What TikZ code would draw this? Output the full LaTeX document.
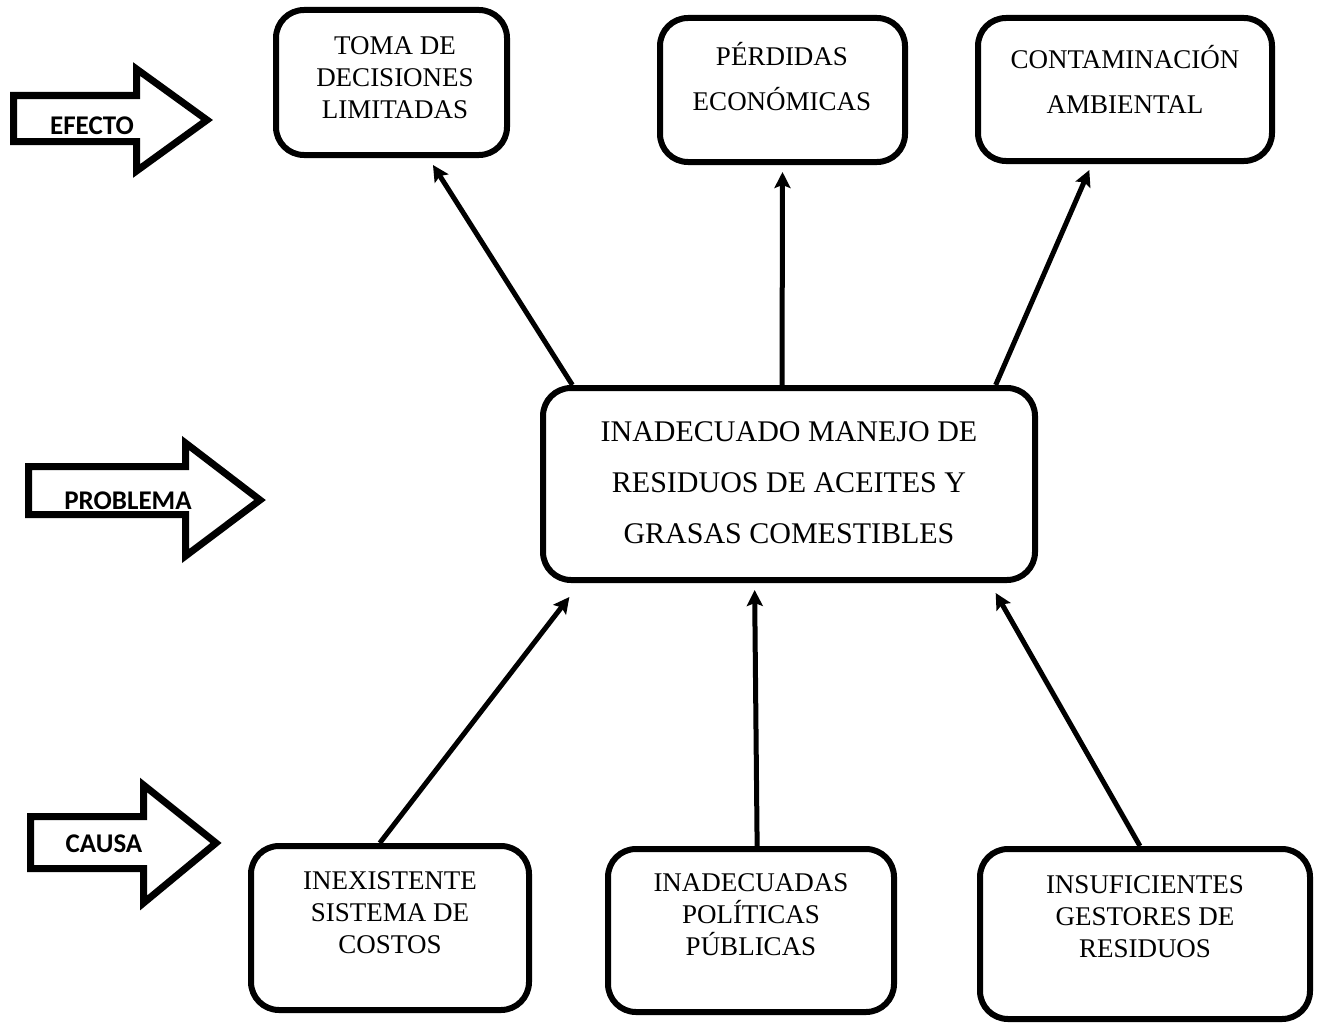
\documentclass[tikz,border=0pt]{standalone}
\usepackage{fontspec}
\setmainfont{Liberation Serif}
\newfontfamily\labelfont{Carlito}
\usetikzlibrary{arrows.meta,calc}

\begin{document}
\begin{tikzpicture}[x=1pt,y=-1pt,
  box/.style={draw=black, line width=6pt, rounded corners=28pt, inner sep=0pt, fill=white},
  txt/.style={align=center, inner sep=0pt, font=\fontsize{27}{32}\selectfont},
  wide/.style={align=center, inner sep=0pt, font=\fontsize{27}{45}\selectfont},
  maintxt/.style={align=center, inner sep=0pt, font=\fontsize{30}{51}\selectfont},
  blockarrow/.style={draw=black, line width=7pt, miter limit=10, fill=white},
  tag/.style={inner sep=0pt, font=\labelfont\bfseries\fontsize{27}{30}\selectfont},
  conn/.style={line width=5pt, -{Stealth[length=16pt,width=16pt,inset=3pt]}}]

% canvas
\fill[white] (0,0) rectangle (1323,1025);
\useasboundingbox (0,0) rectangle (1323,1025);

% effects
\node[box, minimum width=231pt, minimum height=145pt] (t1) at (391.5,82.5) {};
\node[txt] (t1txt) at (395,78) {TOMA DE\\DECISIONES\\LIMITADAS};
\node[box, minimum width=245pt, minimum height=144pt] (t2) at (782.5,90) {};
\node[wide] (t2txt) at (782,77) {PÉRDIDAS\\ECONÓMICAS};
\node[box, minimum width=294pt, minimum height=143pt] (t3) at (1125,89.5) {};
\node[wide] (t3txt) at (1125,79) {CONTAMINACIÓN\\AMBIENTAL};

% problem
\node[box, minimum width=492pt, minimum height=192pt] (c) at (789,484) {};
\node[maintxt] (ctxt) at (789,483) {INADECUADO MANEJO DE\\RESIDUOS DE ACEITES Y\\GRASAS COMESTIBLES};

% causes
\node[box, minimum width=278pt, minimum height=164pt] (b1) at (390,928) {};
\node[txt] (b1txt) at (390,913) {INEXISTENTE\\SISTEMA DE\\COSTOS};
\node[box, minimum width=286pt, minimum height=163pt] (b2) at (751,930.5) {};
\node[txt] (b2txt) at (751,915) {INADECUADAS\\POLÍTICAS\\PÚBLICAS};
\node[box, minimum width=330pt, minimum height=170pt] (b3) at (1145,934) {};
\node[txt] (b3txt) at (1145,917) {INSUFICIENTES\\GESTORES DE\\RESIDUOS};

% connectors: problem -> effects
\draw[conn] ($(c.north west)!0.065!(c.north east)$) -- ($(t1.south west)!0.675!(t1.south east)+(0,7)$);
\draw[conn] ($(c.north west)!0.486!(c.north east)$) -- ($(t2.south west)!0.5!(t2.south east)+(0,7)$);
\draw[conn] ($(c.north west)!0.915!(c.north east)$) -- ($(t3.south west)!0.381!(t3.south east)+(0,6)$);

% connectors: causes -> problem
\draw[conn] ($(b1.north west)!0.464!(b1.north east)$) -- ($(c.south west)!0.059!(c.south east)+(0,14)$);
\draw[conn] ($(b2.north west)!0.521!(b2.north east)$) -- ($(c.south west)!0.431!(c.south east)+(0,7)$);
\draw[conn] ($(b3.north west)!0.485!(b3.north east)$) -- ($(c.south west)!0.915!(c.south east)+(0,10)$);

% side block arrows
\draw[blockarrow] (13.5,95.5) -- (136.5,95.5) -- (136.5,69) -- (207,120) -- (136.5,171) -- (136.5,141.5) -- (13.5,141.5) -- cycle;
\node[tag] (efecto) at (92,126) {EFECTO};

\draw[blockarrow] (28.5,466.5) -- (185.5,466.5) -- (185.5,443) -- (260,500) -- (185.5,556) -- (185.5,514.5) -- (28.5,514.5) -- cycle;
\node[tag] (problema) at (128,501) {PROBLEMA};

\draw[blockarrow] (30.5,816.5) -- (143.5,816.5) -- (143.5,785) -- (216,843) -- (143.5,903) -- (143.5,868.5) -- (30.5,868.5) -- cycle;
\node[tag] (causa) at (104,844) {CAUSA};
\end{tikzpicture}
\end{document}
